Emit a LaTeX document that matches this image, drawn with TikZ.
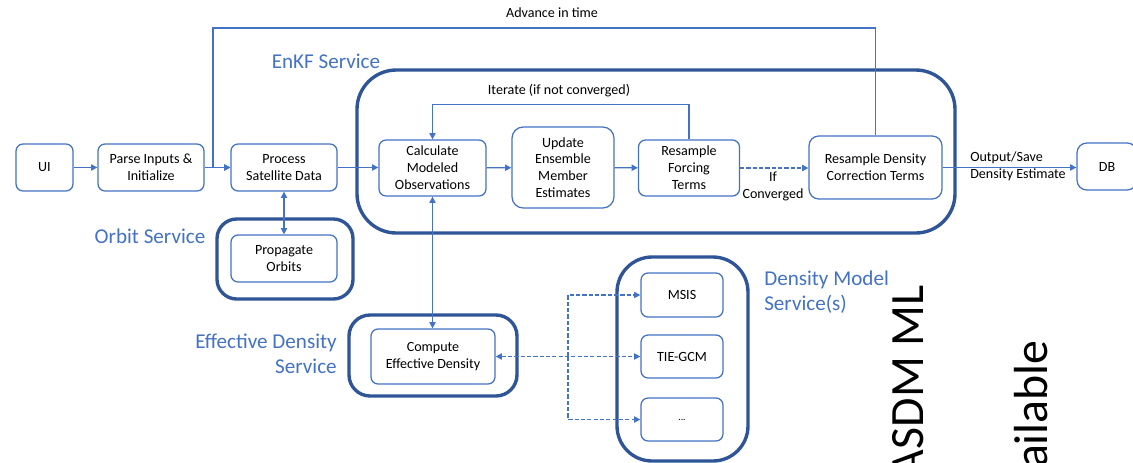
\documentclass[tikz,border=0pt]{standalone}
\usepackage{fontspec}
\setmainfont{Carlito}
\usepackage{tikz}
\usetikzlibrary{arrows.meta, positioning, calc}
\definecolor{boxline}{HTML}{4472C4}
\definecolor{serviceline}{HTML}{2F5597}
\definecolor{servicetext}{HTML}{4472C4}

\tikzset{
  boxsize/.style 2 args={minimum width=#1*0.025cm, minimum height=#2*0.025cm},
  procbox/.style={draw=boxline, line width=0.9pt, rounded corners=5pt, align=center,
    inner sep=0pt, fill=white, font=\fontsize{10}{12}\selectfont},
  servicebox/.style={draw=serviceline, line width=2.4pt, inner sep=0pt},
  flow/.style={draw=boxline, line width=0.9pt, ->},
  dflow/.style={flow, dash pattern=on 3pt off 1.5pt},
  servicelabel/.style={text=servicetext, font=\fontsize{15}{18}\selectfont, inner sep=0pt},
  note/.style={font=\fontsize{10}{12}\selectfont, inner sep=0pt, align=center},
  biglabel/.style={font=\fontsize{34}{38}\selectfont, rotate=90, inner sep=0pt, anchor=base east}
}

\begin{document}
\begin{tikzpicture}[x=0.025cm, y=-0.025cm, >={Triangle[length=4.5pt,width=4.5pt]}]
    % Canvas
    \fill[white] (0,0) rectangle (1133,462);
    \useasboundingbox (0,0) rectangle (1133,462);
    \clip (0,0) rectangle (1133,462);

    % Service containers
    \node[servicebox, rounded corners=28pt, boxsize={598}{163}] (enkf) at (656,151.5) {};
    \node[servicebox, rounded corners=14pt, boxsize={136}{80}] (orbitsvc) at (285,259) {};
    \node[servicebox, rounded corners=15pt, boxsize={168}{81}] (effsvc) at (433,355.5) {};
    \node[servicebox, rounded corners=25pt, boxsize={131}{204}] (modelsvc) at (682.5,359) {};

    % Service labels
    \node[servicelabel] (enkflbl) at (326,61) {EnKF Service};
    \node[servicelabel] (orbitlbl) at (150,236) {Orbit Service};
    \node[servicelabel, align=right, anchor=east] (efflbl) at (337,353.5) {Effective Density\\Service};
    \node[servicelabel, align=left, anchor=west] (modellbl) at (764,292) {Density Model\\Service(s)};

    % Main chain
    \node[procbox, boxsize={57}{47}] (ui) at (44.5,167.5) {UI};
    \node[procbox, boxsize={106}{47}] (parse) at (151,167.5) {Parse Inputs \&\\Initialize};
    \node[procbox, boxsize={106}{47}] (process) at (284,167.5) {Process\\Satellite Data};
    \node[procbox, boxsize={107}{56}] (calc) at (432.5,168) {Calculate\\Modeled\\Observations};
    \node[procbox, rounded corners=8pt, boxsize={102}{81}] (update) at (563,167.5) {Update\\Ensemble\\Member\\Estimates};
    \node[procbox, boxsize={101}{56}] (forcing) at (689,168) {Resample\\Forcing\\Terms};
    \node[procbox, rounded corners=7pt, boxsize={133}{63}] (dens) at (875.5,167.5) {Resample Density\\Correction Terms};
    \node[procbox, rounded corners=7pt, boxsize={60}{47}] (db) at (1107,166.5) {DB};

    % Service boxes
    \node[procbox, boxsize={106}{47}] (propagate) at (284,258.5) {Propagate\\Orbits};
    \node[procbox, boxsize={124}{55}] (compute) at (433,356.5) {Compute\\Effective Density};
    \node[procbox, boxsize={82}{44}] (msis) at (682,295) {MSIS};
    \node[procbox, boxsize={82}{43}] (tiegcm) at (682,356.5) {TIE-GCM};
    \node[procbox, boxsize={82}{43}, font=\fontsize{7}{8}\selectfont] (etc) at (682,419.5) {...};

    % Arrows along the chain
    \draw[flow] (ui) -- (parse);
    \draw[flow] (parse) -- (process);
    \draw[flow] (process) -- (process -| calc.west);
    \draw[flow] (calc) -- (update);
    \draw[flow] (update) -- (forcing);
    \draw[dflow] (forcing) -- (forcing -| dens.west);
    \node[note] (ifconv) at (773,186) {If\\Converged};
    \draw[flow] (dens.east) -- (dens.east -| db.west);
    \node[note, align=left, anchor=west] (outlbl) at (970,166) {Output/Save\\Density Estimate};

    % Iterate loop
    \draw[flow] (forcing.north) -- ++(0,-35) -| (calc.north);
    \node[note] (iterlbl) at (559,91) {Iterate (if not converged)};

    % Advance in time loop
    \coordinate (adv) at (213,167.5);
    \draw[flow] (dens.north) -- (dens.north |- 0,28) -| (adv) -- (process.west);
    \node[note] (advlbl) at (552,13) {Advance in time};

    % Service links
    \draw[flow, <->] (process.south) -- (process.south |- propagate.north);
    \draw[flow, <->] (calc.south) -- (calc.south |- compute.north);
    \coordinate (split) at (568,356.5);
    \draw[dflow, <->] (compute.east) -- (tiegcm.west);
    \draw[dflow] (split) |- (msis.west);
    \draw[dflow] (split) |- (etc.west);

    % Cut-off side text
    \node[biglabel] (asdm) at (923,285) {ASDM ML};
    \node[biglabel] (avail) at (1047,340) {ailable};
\end{tikzpicture}
\end{document}
